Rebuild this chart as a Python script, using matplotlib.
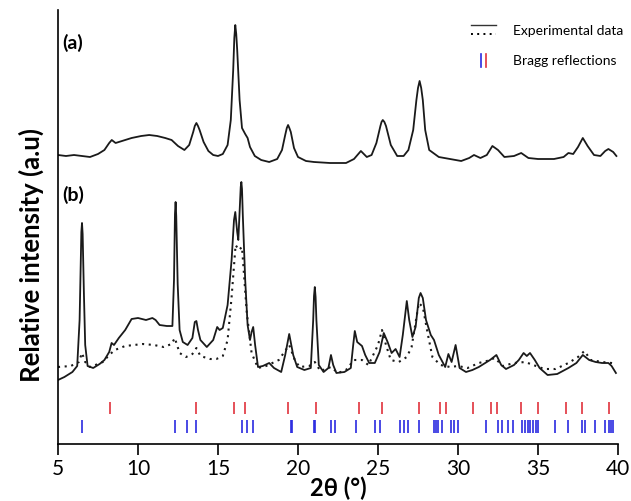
import matplotlib
matplotlib.use("Agg")
import matplotlib.pyplot as plt
from matplotlib.legend_handler import HandlerBase
from matplotlib.lines import Line2D

plt.rcParams["font.family"] = ["Lato", "DejaVu Sans"]

# pattern (a): experimental data, shifted up
a_x = [5.0, 5.5, 6.0, 6.5, 7.0, 7.5, 7.9, 8.2, 8.36, 8.6, 9.0, 9.6, 10.2, 10.7, 11.2,
       11.7, 12.1, 12.5, 12.9, 13.2, 13.45, 13.55, 13.65, 13.75, 13.85, 14.1, 14.4,
       14.7, 15.0, 15.3, 15.6, 15.8, 15.95, 16.02, 16.08, 16.14, 16.2, 16.35, 16.5,
       16.7, 16.85, 17.0, 17.3, 17.7, 18.2, 18.7, 19.0, 19.2, 19.3, 19.38, 19.46,
       19.55, 19.75, 20.0, 20.5, 21.0, 22.0, 23.0, 23.5, 23.93, 24.3, 24.6, 24.9,
       25.15, 25.22, 25.3, 25.4, 25.5, 25.8, 26.2, 26.6, 26.9, 27.2, 27.4, 27.5, 27.6,
       27.7, 27.8, 27.95, 28.2, 28.8, 29.5, 30.2, 30.7, 31.0, 31.4, 31.8, 32.15, 32.5,
       32.9, 33.5, 33.95, 34.4, 35.0, 36.0, 36.6, 36.9, 37.2, 37.5, 37.8, 38.1, 38.5,
       38.9, 39.2, 39.4, 39.7, 39.9]
a_y = [289, 288, 289, 288, 287, 290, 294, 301, 304, 301, 303, 306, 308, 309, 308,
       306, 304, 298, 294, 299, 312, 318, 321, 318, 314, 302, 293,
       289, 288, 290, 299, 324, 374, 406, 419, 410, 394, 344, 316,
       310, 306, 297, 288, 284, 282, 285, 294, 309, 316, 319, 316,
       312, 296, 287, 283, 282, 281, 281, 285, 293, 287, 289, 301,
       318, 322, 324, 322, 318, 299, 288, 288, 294, 314, 344, 356, 363,
       356, 344, 314, 294, 287, 285, 283, 286, 289, 286, 289, 298, 294,
       287, 288, 291, 286, 285, 285, 287, 291, 290, 297, 306, 298, 289,
       288, 293, 295, 292, 288]

# pattern (b): experimental data (solid)
b_x = [5.0, 5.4, 5.9, 6.2, 6.35, 6.46, 6.5, 6.54, 6.62, 6.7, 6.85, 7.2, 7.6, 7.9, 8.2,
       8.35, 8.5, 8.8, 9.2, 9.6, 10.0, 10.5, 10.9, 11.1, 11.35, 11.8, 12.15, 12.25,
       12.31, 12.35, 12.39, 12.48, 12.6, 12.8, 13.1, 13.4, 13.55, 13.65, 13.75, 13.9,
       14.3, 14.7, 14.95, 15.1, 15.3, 15.6, 15.85, 16.0, 16.08, 16.2, 16.27, 16.38,
       16.42, 16.46, 16.5, 16.55, 16.7, 16.85, 17.0, 17.1, 17.2, 17.32, 17.5, 17.8,
       18.2, 18.5, 18.95, 19.2, 19.45, 19.7, 19.95, 20.4, 20.8, 20.95, 21.0, 21.05,
       21.1, 21.15, 21.3, 21.6, 21.9, 22.06, 22.2, 22.4, 22.9, 23.3, 23.45, 23.55,
       23.7, 24.0, 24.2, 24.45, 24.8, 25.1, 25.36, 25.6, 25.85, 26.1, 26.35, 26.55,
       26.8, 26.95, 27.15, 27.35, 27.55, 27.66, 27.8, 28.0, 28.3, 28.5, 28.8, 29.2,
       29.4, 29.6, 29.85, 30.1, 30.5, 30.9, 31.3, 31.6, 32.0, 32.4, 32.7, 33.0, 33.5,
       33.8, 34.1, 34.3, 34.5, 34.8, 35.1, 35.6, 36.2, 36.9, 37.4, 37.8, 38.2, 38.6,
       39.0, 39.4, 39.6, 39.87]
b_y = [64, 67, 72, 78, 124, 212, 221, 210, 150, 99, 78, 76, 80, 84, 92,
       101, 99, 106, 114, 125, 126, 124, 126, 124, 119, 118, 118, 164,
       230, 242, 228, 160, 114, 102, 99, 106, 122, 123, 114, 104,
       97, 104, 117, 114, 116, 139, 184, 224, 232, 212, 204, 244,
       257, 262, 255, 229, 164, 119, 104, 112, 117, 99, 77, 78,
       81, 76, 72, 89, 110, 89, 77, 74, 76, 124, 148, 157,
       147, 124, 79, 72, 76, 89, 79, 71, 72, 76, 99, 113,
       102, 98, 89, 81, 81, 92, 111, 102, 91, 95, 87, 109,
       143, 124, 107, 117, 146, 151, 146, 124, 109, 104, 89, 77,
       90, 82, 99, 76, 72, 74, 77, 80, 84, 89, 79, 75, 79,
       84, 91, 88, 91, 84, 76, 69, 70, 76, 81, 89, 84, 82,
       81, 81, 78, 71]

# pattern (b): second data set (dotted)
c_x = [5.0, 5.8, 6.3, 6.5, 6.7, 7.0, 7.5, 7.8, 8.2, 8.55, 9.2, 10.3, 11.0, 11.6, 12.1,
       12.3, 12.6, 13.0, 13.4, 13.65, 13.9, 14.5, 14.9, 15.3, 15.6, 15.85, 16.1, 16.3,
       16.5, 16.8, 17.1, 17.5, 18.0, 18.8, 19.45, 19.8, 20.1, 20.7, 21.05, 21.4, 22.06,
       22.5, 23.0, 23.5, 24.0, 24.4, 25.0, 25.25, 25.5, 25.8, 26.3, 26.8, 27.1, 27.55,
       27.8, 28.1, 28.4, 28.9, 29.5, 30.0, 30.6, 31.3, 31.8, 32.3, 32.8, 33.5, 34.2,
       34.7, 35.4, 36.1, 36.9, 37.5, 37.9, 38.3, 39.0, 39.6, 39.9]
c_y = [77, 78, 82, 91, 82, 77, 80, 82, 89, 94, 98, 100, 99, 97, 100,
       106, 91, 87, 90, 96, 88, 85, 85, 88, 104, 147, 199, 194,
       197, 131, 91, 76, 78, 84, 99, 84, 77, 78, 82, 73, 77,
       71, 74, 84, 84, 79, 99, 114, 99, 84, 82, 87, 97, 141,
       137, 111, 87, 79, 77, 78, 76, 81, 83, 86, 78, 81, 82,
       79, 75, 75, 81, 87, 93, 84, 82, 81, 80]

# Bragg reflection positions (2theta, deg)
bragg_red = [8.28, 13.63, 16.02, 16.7, 19.36, 21.1, 23.8, 25.26, 27.54, 28.85, 29.24,
             30.92, 32.06, 32.41, 33.93, 35.01, 36.74, 37.77, 39.41]
bragg_blue = [6.47, 12.29, 13.05, 13.63, 16.5, 16.81, 17.2, 19.55, 19.65, 21.0, 21.08,
              22.08, 22.31, 23.64, 24.84, 25.15, 26.36, 26.65, 26.85, 27.54, 28.47,
              28.6, 28.72, 28.99, 29.55, 29.76, 29.97, 31.75, 32.48, 32.73, 33.15,
              33.46, 34.02, 34.2, 34.35, 34.5, 34.7, 34.85, 35.01, 36.09, 36.88,
              37.75, 37.96, 38.54, 39.16, 39.42, 39.55, 39.68]

x_ticks = [5, 10, 15, 20, 25, 30, 35, 40]

RED = "#e0323c"
BLUE = "#2a2ae0"


class ExpHandler(HandlerBase):
    def create_artists(self, legend, orig_handle, xdescent, ydescent, width, height,
                       fontsize, trans):
        x0, x1 = -xdescent, -xdescent + width
        top = Line2D([x0, x1], [height * 0.95 - ydescent] * 2, color="#333333", lw=1.0,
                     transform=trans)
        bot = Line2D([x0, x1], [height * 0.05 - ydescent] * 2, color="black", lw=1.4,
                     linestyle=(0, (1, 2.2)), transform=trans)
        return [top, bot]


class BraggHandler(HandlerBase):
    def create_artists(self, legend, orig_handle, xdescent, ydescent, width, height,
                       fontsize, trans):
        y0, y1 = -ydescent - height * 0.15, -ydescent + height * 1.15
        xb = -xdescent + width * 0.42
        xr = -xdescent + width * 0.62
        blue = Line2D([xb, xb], [y0, y1], color=BLUE, lw=1.2, transform=trans)
        red = Line2D([xr, xr], [y0, y1], color=RED, lw=1.2, transform=trans)
        return [blue, red]


fig = plt.figure(figsize=(6.31, 5.01), dpi=100)
ax = fig.add_axes([58 / 631, 1 - 444 / 501, 560 / 631, 434 / 501])

ax.plot(a_x, a_y, color="#1a1a1a", lw=1.3)
ax.plot(c_x, c_y, color="#1a1a1a", lw=1.5, linestyle=(0, (1, 2.2)))
ax.plot(b_x, b_y, color="#1a1a1a", lw=1.3)

ax.vlines(bragg_red, 30, 42, color=RED, lw=1.2)
ax.vlines(bragg_blue, 11, 24, color=BLUE, lw=1.2)

ax.set_xlim(5, 40)
ax.set_ylim(0, 434)
ax.set_xticks(x_ticks)
ax.set_yticks([])
ax.tick_params(axis="x", direction="out", length=8, width=1.2, labelsize=15, pad=3)
for side in ["top", "right"]:
    ax.spines[side].set_visible(False)
for side in ["left", "bottom"]:
    ax.spines[side].set_linewidth(1.2)

ax.text(0.008, 0.925, "(a)", transform=ax.transAxes, fontsize=14, fontweight="bold",
        va="center", ha="left")
ax.text(0.008, 0.573, "(b)", transform=ax.transAxes, fontsize=14, fontweight="bold",
        va="center", ha="left")

exp_handle = Line2D([], [])
bragg_handle = Line2D([], [])
ax.legend([exp_handle, bragg_handle], ["Experimental data", "Bragg reflections"],
          handler_map={exp_handle: ExpHandler(), bragg_handle: BraggHandler()},
          loc="upper left", bbox_to_anchor=(0.715, 0.995), frameon=False, fontsize=10,
          handlelength=1.8, handletextpad=1.2, labelspacing=1.35)

fig.text(31 / 631, 1 - 255 / 501, "Relative intensity (a.u)", rotation=90,
         ha="center", va="center", fontsize=18.5, fontweight="bold")
fig.text(338 / 631, 1 / 501, "2θ (°)", ha="center", va="bottom", fontsize=17,
         fontweight="bold")

fig.savefig("out.png", dpi=100, facecolor="white")
